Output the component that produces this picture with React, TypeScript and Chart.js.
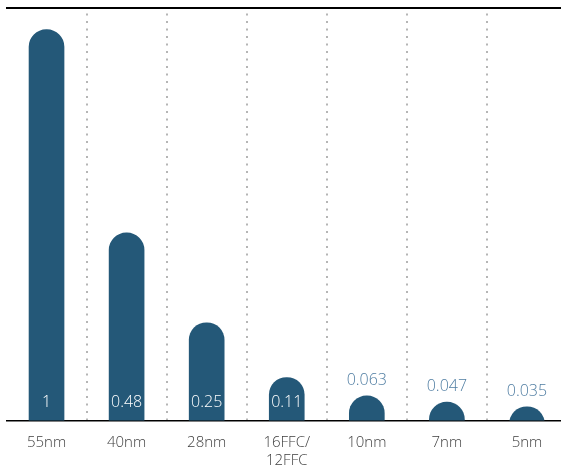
import { useEffect, useRef } from "react";
import { Chart, registerables } from "chart.js";

Chart.register(...registerables);

const categories: (string | string[])[] = ["55nm", "40nm", "28nm", ["16FFC/", "12FFC"], "10nm", "7nm", "5nm"];
const values: number[] = [1, 0.48, 0.25, 0.11, 0.063, 0.047, 0.035];
const valueLabels: string[] = ["1", "0.48", "0.25", "0.11", "0.063", "0.047", "0.035"];

const valueLabelPlugin = {
  id: "valueLabels",
  afterDatasetsDraw(chart: any) {
    const { ctx, chartArea } = chart;
    const meta = chart.getDatasetMeta(0);
    ctx.save();
    ctx.font = '300 16px "Open Sans"';
    ctx.textAlign = "center";
    ctx.textBaseline = "alphabetic";
    meta.data.forEach((bar: any, i: number) => {
      const inside = values[i] >= 0.1;
      ctx.fillStyle = inside ? "#ffffff" : "#4f7da2";
      const y = inside ? chartArea.bottom - 13.3 : bar.y - 11;
      ctx.fillText(valueLabels[i], bar.x, y);
    });
    ctx.restore();
  },
};

export default function App() {
  const ref = useRef<HTMLCanvasElement | null>(null);

  useEffect(() => {
    if (!ref.current) return;
    const chart = new Chart(ref.current, {
      type: "bar",
      data: {
        labels: categories as any,
        datasets: [
          {
            data: values,
            backgroundColor: "#245878",
            barThickness: 35,
            borderRadius: 17.5,
            borderSkipped: false,
            base: -0.1,
            clip: 0,
            xAxisID: "x",
            yAxisID: "y",
          } as any,
        ],
      },
      options: {
        animation: false,
        responsive: false,
        maintainAspectRatio: false,
        layout: { padding: { top: 7.5, left: 6.5, right: 0, bottom: -17 } },
        plugins: {
          legend: { display: false },
          tooltip: { enabled: false },
        },
        scales: {
          x: {
            type: "category",
            offset: true,
            z: 1,
            grid: {
              display: true,
              offset: true,
              drawTicks: false,
              lineWidth: 2,
              color: (c: any) => (c.type !== "tick" || c.index === 0 ? "rgba(0,0,0,0)" : "#b5b5b5"),
            },
            border: { display: true, color: "#000000", width: 1.5, dash: [2, 5.5], dashOffset: 1.5 },
            ticks: {
              color: "#3e3e3e",
              font: { family: '"Open Sans"', size: 15, weight: "300", lineHeight: 1.15 },
              padding: 14,
              maxRotation: 0,
              autoSkip: false,
            },
          },
          x2: {
            type: "category",
            position: "top",
            offset: true,
            grid: { display: false, drawTicks: false },
            ticks: { display: false },
            border: { display: true, color: "#000000", width: 2 },
          },
          y: { display: false, min: 0, max: 1.0566 },
        },
      } as any,
      plugins: [valueLabelPlugin],
    });
    return () => chart.destroy();
  }, []);

  return (
    <div style={{ position: "absolute", left: 0, top: 0, width: 561, height: 466, overflow: "hidden", background: "#fff" }}>
      <canvas ref={ref} width={567} height={466} style={{ display: "block" }} />
    </div>
  );
}
